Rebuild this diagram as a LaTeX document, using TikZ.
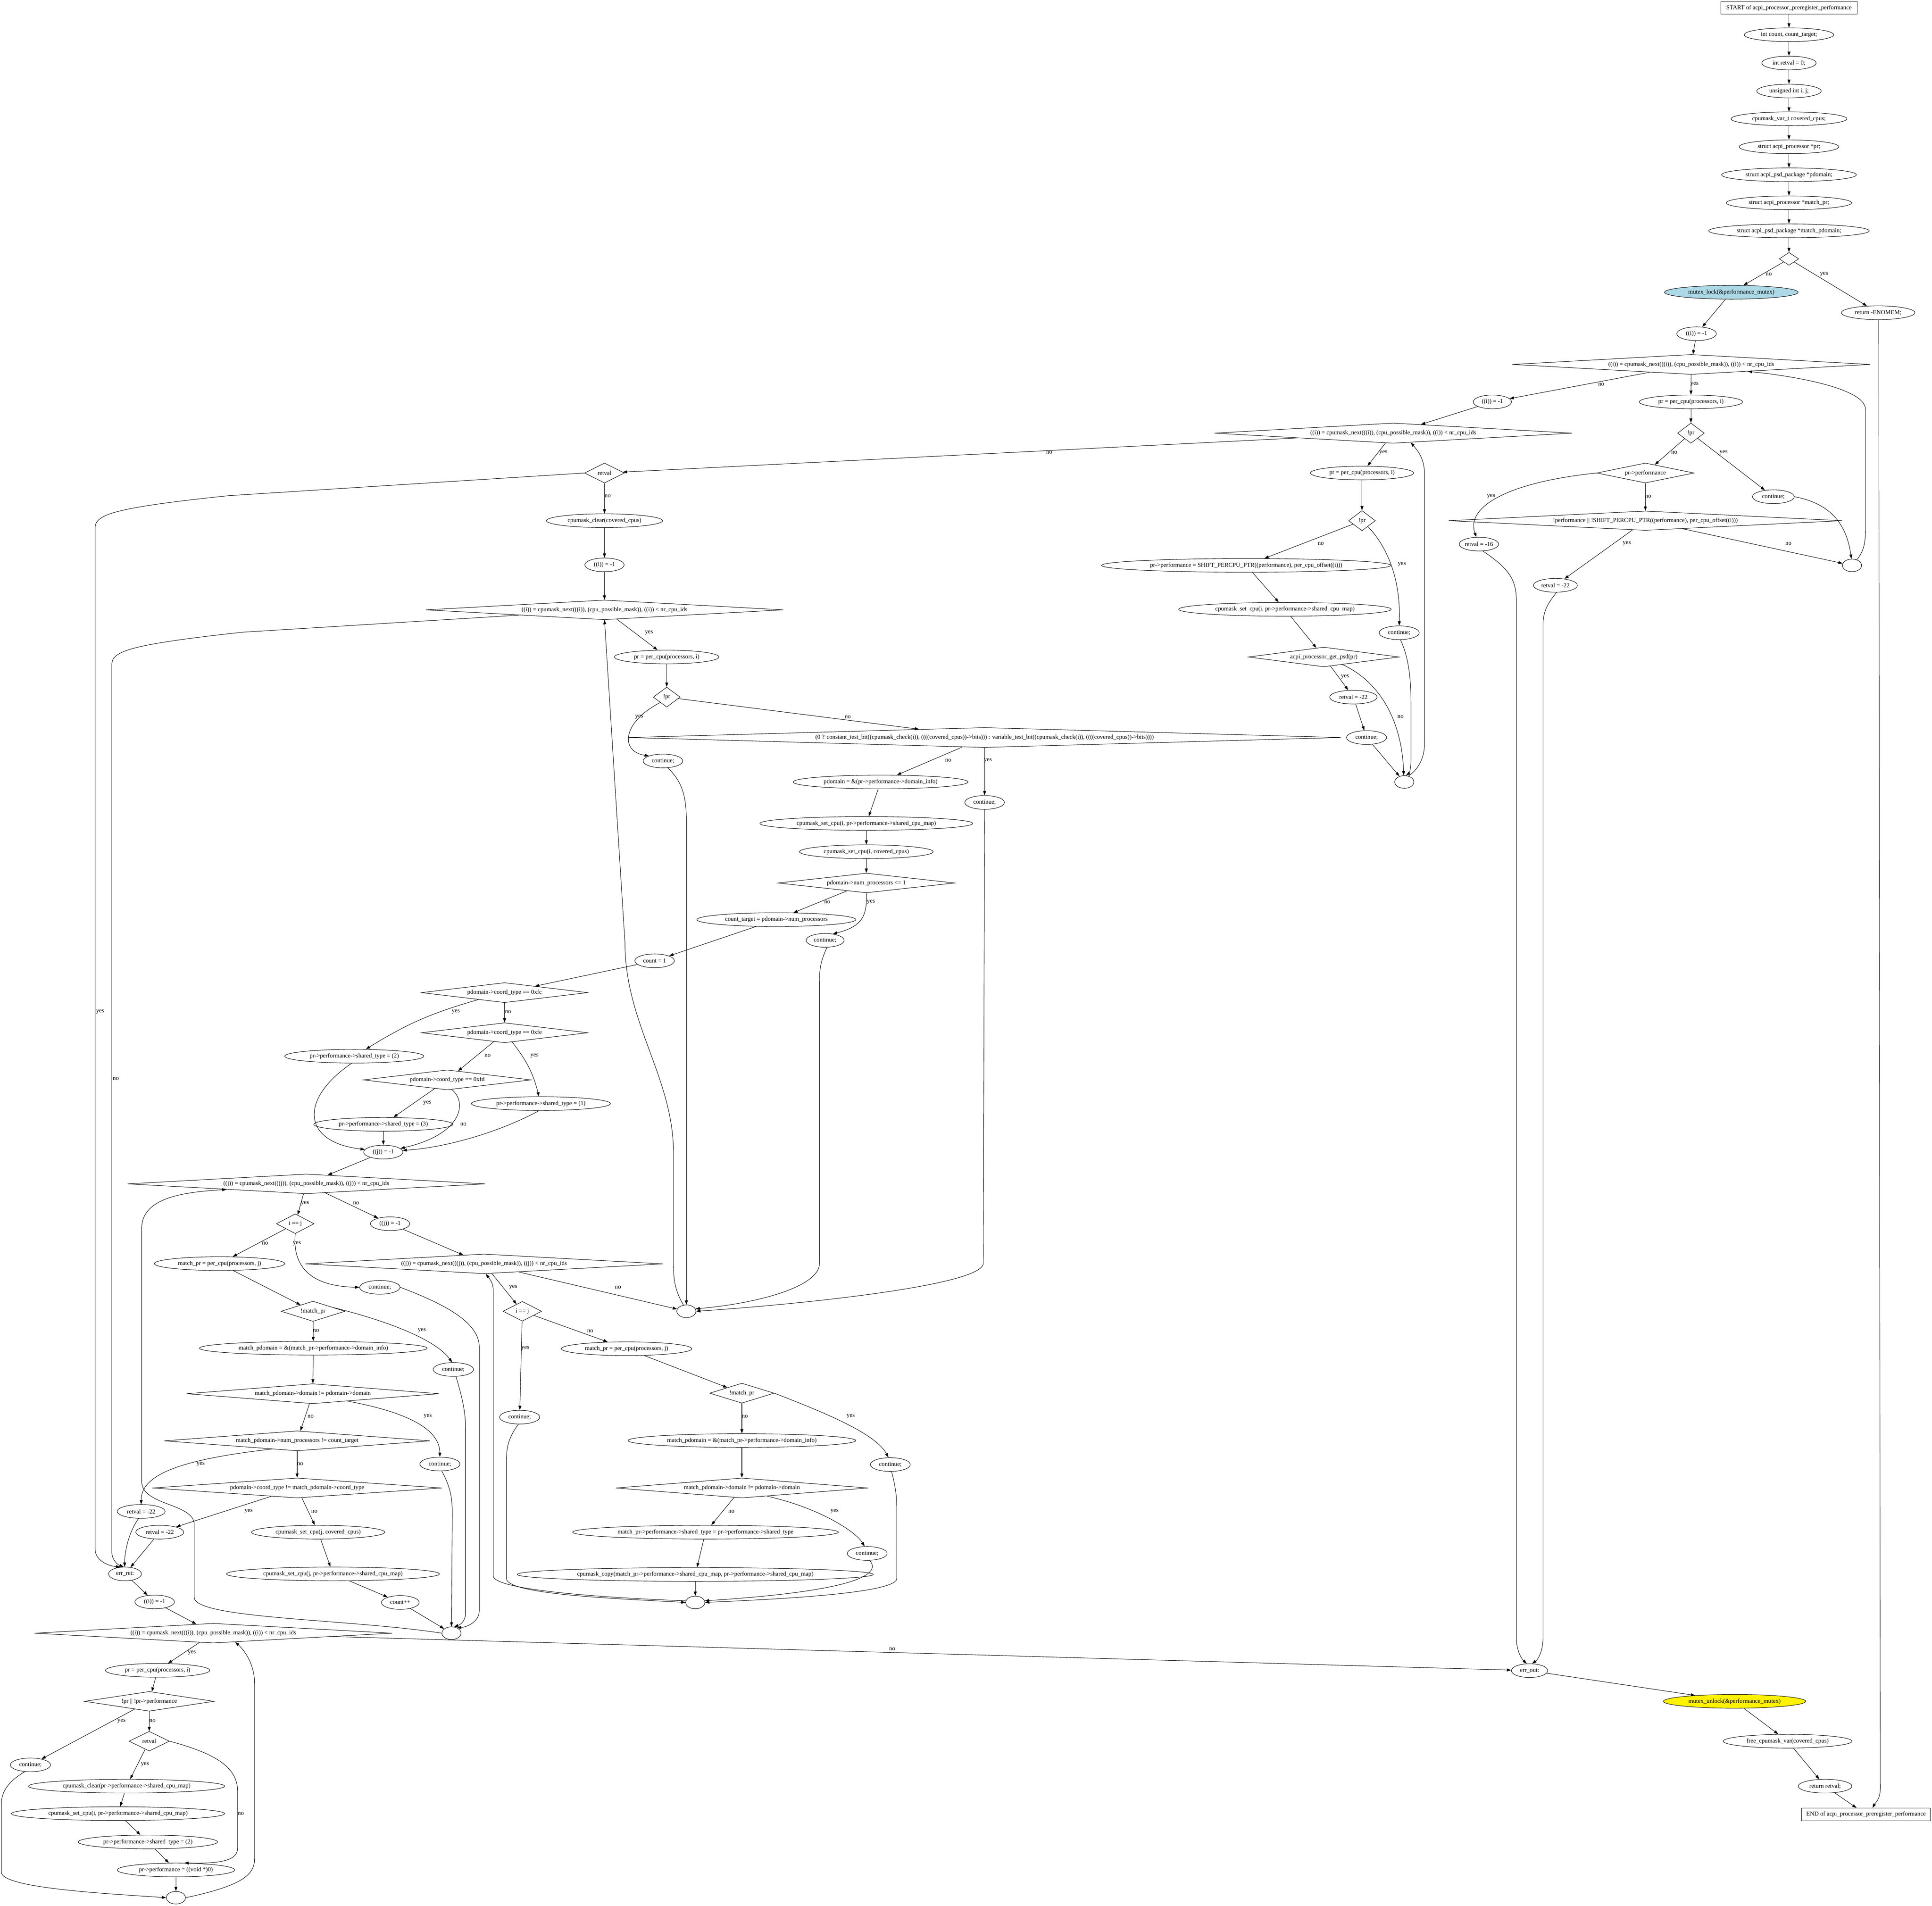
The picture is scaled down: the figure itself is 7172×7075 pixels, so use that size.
\documentclass[tikz,border=0pt]{standalone}
\usepackage{fontspec}
\setmainfont{Liberation Serif}
\usetikzlibrary{shapes.geometric,arrows.meta}
\newcommand\z[1]{\makebox[0pt]{#1}}
\definecolor{lblue}{RGB}{173,216,230}
\begin{document}
\begin{tikzpicture}[x=0.01cm,y=-0.01cm,
  every node/.style={font=\fontsize{6.4}{7.5}\selectfont},
  line width=0.45pt,
  el/.style={ellipse,draw,inner sep=0pt,minimum height=0.51cm,minimum width=#1},
  mg/.style={ellipse,draw,inner sep=0pt,minimum height=0.47cm,minimum width=0.71cm},
  dia/.style 2 args={diamond,draw,inner sep=0pt,minimum width=#1,minimum height=#2},
  box/.style={rectangle,draw,inner sep=0pt,minimum width=#1,minimum height=0.47cm},
  lab/.style={inner sep=0pt},
  ar/.style={draw,-{Triangle[length=0.16cm,width=0.11cm]}}]
\useasboundingbox (0,0) rectangle (7172,7075);
% top chain
\node[box=5.06cm] (start) at (6641,29) {\z{START of acpi\_processor\_preregister\_performance}};
\node[el=3.32cm] (n1) at (6641,129) {\z{int count, count\_target;}};
\node[el=2.02cm] (n2) at (6641,234) {\z{int retval = 0;}};
\node[el=2.39cm] (n3) at (6641,338) {\z{unsigned int i, j;}};
\node[el=4.30cm] (n4) at (6641,441) {\z{cpumask\_var\_t covered\_cpus;}};
\node[el=3.70cm] (n5) at (6641,545) {\z{struct acpi\_processor *pr;}};
\node[el=5.00cm] (n6) at (6641,649) {\z{struct acpi\_psd\_package *pdomain;}};
\node[el=4.65cm] (n7) at (6641,753) {\z{struct acpi\_processor *match\_pr;}};
\node[el=5.96cm] (n8) at (6641,857) {\z{struct acpi\_psd\_package *match\_pdomain;}};
\node[dia={0.72cm}{0.48cm}] (d0) at (6641,961) {};
\node[el=4.96cm,fill=lblue] (mlock) at (6427,1085) {\z{mutex\_lock(\&performance\_mutex)}};
\node[el=2.73cm] (enomem) at (6972,1161) {\z{return -ENOMEM;}};
\node[el=1.47cm] (i1) at (6298,1239) {\z{((i)) = -1}};
\node[dia={13.28cm}{0.74cm}] (L1) at (6278,1353) {\z{((i)) = cpumask\_next(((i)), (cpu\_possible\_mask)), ((i)) < nr\_cpu\_ids}};
\node[el=1.42cm] (i2) at (5540,1492) {\z{((i)) = -1}};
\node[el=3.83cm] (pr1) at (6277,1492) {\z{pr = per\_cpu(processors, i)}};
\node[dia={0.99cm}{0.75cm}] (npr1) at (6277,1608) {\z{!pr}};
\node[dia={13.27cm}{0.75cm}] (L2) at (5172,1608) {\z{((i)) = cpumask\_next(((i)), (cpu\_possible\_mask)), ((i)) < nr\_cpu\_ids}};
\node[dia={3.61cm}{0.74cm}] (prp) at (6108,1756) {\z{pr->performance}};
\node[el=1.55cm] (c1) at (6583,1844) {\z{continue;}};
\node[dia={14.60cm}{0.72cm}] (perf) at (6108,1933) {\z{!performance || !SHIFT\_PERCPU\_PTR((performance), per\_cpu\_offset((i)))}};
\node[el=1.46cm] (r16) at (5490,2020) {\z{retval = -16}};
\node[el=1.63cm] (r22a) at (5774,2173) {\z{retval = -22}};
\node[mg] (m1) at (6875,2099) {};
% loop 2 body
\node[el=3.83cm] (pr2) at (5056,1756) {\z{pr = per\_cpu(processors, i)}};
\node[dia={0.99cm}{0.75cm}] (npr2) at (5056,1933) {\z{!pr}};
\node[el=10.73cm] (shift) at (4626,2099) {\z{pr->performance = SHIFT\_PERCPU\_PTR((performance), per\_cpu\_offset((i)))}};
\node[el=7.89cm] (scpu2) at (4770,2262) {\z{cpumask\_set\_cpu(i, pr->performance->shared\_cpu\_map)}};
\node[dia={5.59cm}{0.73cm}] (psd) at (4914,2439) {\z{acpi\_processor\_get\_psd(pr)}};
\node[el=1.49cm] (c2a) at (5194,2349) {\z{continue;}};
\node[el=1.76cm] (r22b) at (5024,2588) {\z{retval = -22}};
\node[el=1.49cm] (c2b) at (5073,2738) {\z{continue;}};
\node[mg] (m2) at (5213,2903) {};
% loop 3
\node[dia={1.48cm}{0.74cm}] (retv) at (2244,1756) {\z{retval}};
\node[el=4.31cm] (clr) at (2244,1933) {\z{cpumask\_clear(covered\_cpus)}};
\node[el=1.46cm] (i3) at (2244,2097) {\z{((i)) = -1}};
\node[dia={13.26cm}{0.73cm}] (L3) at (2244,2264) {\z{((i)) = cpumask\_next(((i)), (cpu\_possible\_mask)), ((i)) < nr\_cpu\_ids}};
\node[el=3.88cm] (pr3) at (2475,2439) {\z{pr = per\_cpu(processors, i)}};
\node[dia={1.00cm}{0.74cm}] (npr3) at (2475,2588) {\z{!pr}};
\node[el=1.47cm] (c3a) at (2461,2825) {\z{continue;}};
\node[dia={26.43cm}{0.74cm}] (tb) at (3655,2738) {\z{(0 ? constant\_test\_bit((cpumask\_check(i)), ((((covered\_cpus))->bits))) : variable\_test\_bit((cpumask\_check(i)), ((((covered\_cpus))->bits))))}};
\node[el=6.49cm] (pdom) at (3269,2903) {\z{pdomain = \&(pr->performance->domain\_info)}};
\node[el=1.47cm] (c3b) at (3655,2979) {\z{continue;}};
\node[el=7.90cm] (scpu3) at (3216,3057) {\z{cpumask\_set\_cpu(i, pr->performance->shared\_cpu\_map)}};
\node[el=4.96cm] (scov) at (3216,3162) {\z{cpumask\_set\_cpu(i, covered\_cpus)}};
\node[dia={6.55cm}{0.73cm}] (np1) at (3216,3278) {\z{pdomain->num\_processors <= 1}};
\node[el=5.90cm] (ct) at (2882,3414) {\z{count\_target = pdomain->num\_processors}};
\node[el=1.41cm] (c3c) at (3063,3491) {\z{continue;}};
\node[el=1.47cm] (cnt1) at (2430,3567) {\z{count = 1}};
\node[dia={6.17cm}{0.74cm}] (fc) at (1873,3685) {\z{pdomain->coord\_type == 0xfc}};
\node[dia={6.17cm}{0.74cm}] (fe) at (1873,3834) {\z{pdomain->coord\_type == 0xfe}};
\node[el=5.16cm] (st2) at (1315,3921) {\z{pr->performance->shared\_type = (2)}};
\node[dia={6.23cm}{0.74cm}] (fd) at (1660,4009) {\z{pdomain->coord\_type == 0xfd}};
\node[el=5.16cm] (st1) at (2008,4097) {\z{pr->performance->shared\_type = (1)}};
\node[el=5.16cm] (st3) at (1423,4174) {\z{pr->performance->shared\_type = (3)}};
\node[el=1.46cm] (j1) at (1423,4277) {\z{((j)) = -1}};
\node[dia={13.26cm}{0.73cm}] (L4) at (1137,4395) {\z{((j)) = cpumask\_next(((j)), (cpu\_possible\_mask)), ((j)) < nr\_cpu\_ids}};
\node[dia={1.40cm}{0.73cm}] (ij4) at (1096,4543) {\z{i == j}};
\node[el=1.46cm] (j2) at (1448,4543) {\z{((j)) = -1}};
\node[el=4.84cm] (mp4) at (815,4691) {\z{match\_pr = per\_cpu(processors, j)}};
\node[dia={13.27cm}{0.73cm}] (L5) at (1797,4692) {\z{((j)) = cpumask\_next(((j)), (cpu\_possible\_mask)), ((j)) < nr\_cpu\_ids}};
\node[el=1.50cm] (c4a) at (1410,4779) {\z{continue;}};
\node[dia={2.37cm}{0.75cm}] (nmp4) at (1162,4868) {\z{!match\_pr}};
\node[dia={1.43cm}{0.73cm}] (ij5) at (1939,4868) {\z{i == j}};
\node[mg] (m3) at (2548,4868) {};
\node[el=8.45cm] (mpd4) at (1163,5005) {\z{match\_pdomain = \&(match\_pr->performance->domain\_info)}};
\node[el=1.50cm] (c4b) at (1683,5084) {\z{continue;}};
\node[dia={9.36cm}{0.74cm}] (dom4) at (1161,5174) {\z{match\_pdomain->domain != pdomain->domain}};
\node[dia={9.86cm}{0.74cm}] (nump) at (1103,5349) {\z{match\_pdomain->num\_processors != count\_target}};
\node[el=1.49cm] (c4c) at (1633,5435) {\z{continue;}};
\node[dia={10.75cm}{0.74cm}] (crd) at (1103,5524) {\z{pdomain->coord\_type != match\_pdomain->coord\_type}};
\node[el=1.78cm] (r22c) at (524,5611) {\z{retval = -22}};
\node[el=1.78cm] (r22d) at (593,5688) {\z{retval = -22}};
\node[el=4.94cm] (scj) at (1181,5688) {\z{cpumask\_set\_cpu(j, covered\_cpus)}};
\node[el=1.22cm] (errret) at (464,5843) {\z{err\_ret:}};
\node[el=7.90cm] (scj2) at (1236,5843) {\z{cpumask\_set\_cpu(j, pr->performance->shared\_cpu\_map)}};
\node[el=1.40cm] (cntpp) at (1486,5949) {\z{count++}};
\node[el=1.47cm] (i4) at (574,5947) {\z{((i)) = -1}};
\node[mg] (m4) at (1676,6063) {};
% loop 5 body
\node[el=4.84cm] (mp5) at (2326,5007) {\z{match\_pr = per\_cpu(processors, j)}};
\node[el=1.49cm] (c5a) at (1929,5261) {\z{continue;}};
\node[dia={2.39cm}{0.74cm}] (nmp5) at (2754,5172) {\z{!match\_pr}};
\node[el=8.45cm] (mpd5) at (2754,5348) {\z{match\_pdomain = \&(match\_pr->performance->domain\_info)}};
\node[el=1.48cm] (c5b) at (3305,5437) {\z{continue;}};
\node[dia={9.37cm}{0.74cm}] (dom5) at (2754,5524) {\z{match\_pdomain->domain != pdomain->domain}};
\node[el=9.86cm] (sta) at (2619,5688) {\z{match\_pr->performance->shared\_type = pr->performance->shared\_type}};
\node[el=1.48cm] (c5c) at (3219,5767) {\z{continue;}};
\node[el=13.21cm] (cpy) at (2581,5845) {\z{cpumask\_copy(match\_pr->performance->shared\_cpu\_map, pr->performance->shared\_cpu\_map)}};
\node[mg] (m5) at (2581,5949) {};
% loop 6
\node[dia={13.28cm}{0.73cm}] (L6) at (792,6063) {\z{((i)) = cpumask\_next(((i)), (cpu\_possible\_mask)), ((i)) < nr\_cpu\_ids}};
\node[el=3.87cm] (pr6) at (585,6201) {\z{pr = per\_cpu(processors, i)}};
\node[dia={4.80cm}{0.73cm}] (prp6) at (554,6316) {\z{!pr || !pr->performance}};
\node[el=1.49cm] (c6) at (113,6552) {\z{continue;}};
\node[dia={1.50cm}{0.73cm}] (rv6) at (554,6464) {\z{retval}};
\node[el=7.28cm] (clr6) at (470,6631) {\z{cpumask\_clear(pr->performance->shared\_cpu\_map)}};
\node[el=7.91cm] (scpu6) at (438,6733) {\z{cpumask\_set\_cpu(i, pr->performance->shared\_cpu\_map)}};
\node[el=5.17cm] (st6) at (549,6838) {\z{pr->performance->shared\_type = (2)}};
\node[el=4.36cm] (void) at (653,6942) {\z{pr->performance = ((void *)0)}};
\node[mg] (m6) at (653,7045) {};
% end
\node[el=1.35cm] (errout) at (5678,6202) {\z{err\_out:}};
\node[el=5.28cm,fill=yellow] (munlock) at (6439,6316) {\z{mutex\_unlock(\&performance\_mutex)}};
\node[el=4.78cm] (free) at (6636,6464) {\z{free\_cpumask\_var(covered\_cpus)}};
\node[el=1.99cm] (ret) at (6775,6631) {\z{return retval;}};
\node[box=4.77cm] (end) at (6927,6736) {\z{END of acpi\_processor\_preregister\_performance}};

% straight edges
\foreach \a/\b in {start/n1,n1/n2,n2/n3,n3/n4,n4/n5,n5/n6,n6/n7,n7/n8,n8/d0,d0/mlock,d0/enomem,
  mlock/i1,i1/L1,L1/i2,L1/pr1,i2/L2,pr1/npr1,npr1/prp,npr1/c1,prp/perf,perf/r22a,perf/m1,
  L2/retv,L2/pr2,pr2/npr2,npr2/shift,shift/scpu2,scpu2/psd,psd/r22b,r22b/c2b,c2b/m2,
  retv/clr,clr/i3,i3/L3,L3/pr3,pr3/npr3,npr3/tb,tb/pdom,tb/c3b,pdom/scpu3,scpu3/scov,scov/np1,
  np1/ct,ct/cnt1,cnt1/fc,fc/fe,fe/fd,fd/st3,st3/j1,j1/L4,L4/ij4,L4/j2,ij4/mp4,j2/L5,mp4/nmp4,
  L5/ij5,L5/m3,ij5/mp5,ij5/c5a,nmp4/mpd4,mpd4/dom4,dom4/nump,nump/crd,crd/r22d,crd/scj,
  scj/scj2,scj2/cntpp,cntpp/m4,r22d/errret,errret/i4,i4/L6,mp5/nmp5,nmp5/mpd5,mpd5/dom5,
  dom5/sta,sta/cpy,cpy/m5,L6/pr6,pr6/prp6,prp6/c6,prp6/rv6,rv6/clr6,clr6/scpu6,scpu6/st6,
  st6/void,void/m6,L6/errout,errout/munlock,munlock/free,free/ret,ret/end}
  \draw[ar] (\a) -- (\b);

% curved edges, loop 1
\draw[ar] (prp.west) .. controls (5600,1790) and (5440,1880) .. (r16.110);
\draw[ar] (c1.east) .. controls (6800,1870) and (6855,1950) .. (m1.95);
\draw[ar] (m1.50) .. controls (6925,2040) and (6925,2000) .. (6925,1950) -- (6925,1520) .. controls (6925,1440) and (6650,1395) .. (L1.-7);
\draw[ar] (r16.-60) .. controls (5600,2110) and (5629,2150) .. (5629,2230) -- (5629,6080) .. controls (5629,6130) and (5650,6160) .. (errout.112);
\draw[ar] (r22a.-80) .. controls (5745,2240) and (5728,2270) .. (5728,2320) -- (5728,6080) .. controls (5728,6130) and (5710,6160) .. (errout.70);
\draw[ar] (enomem.-85) -- (6980,6640) .. controls (6980,6680) and (6960,6695) .. (end.45);
% loop 2
\draw[ar] (npr2.-45) .. controls (5150,2030) and (5200,2150) .. (c2a.north);
\draw[ar] (psd.-22) .. controls (5140,2540) and (5205,2700) .. (m2.95);
\draw[ar] (c2a.-80) .. controls (5235,2450) and (5238,2550) .. (5238,2620) -- (5238,2820) .. controls (5238,2850) and (5232,2870) .. (m2.75);
\draw[ar] (m2.55) .. controls (5260,2860) and (5288,2820) .. (5288,2760) -- (5288,1760) .. controls (5288,1700) and (5260,1670) .. (L2.-28);
% retval / loop 3 exits
\draw[ar] (retv.west) -- (850,1840) .. controls (420,1885) and (353,1910) .. (353,1960) -- (353,5750) .. controls (353,5790) and (395,5812) .. (errret.125);
\draw[ar] (L3) -- (900,2347) .. controls (460,2395) and (415,2420) .. (415,2470) -- (415,5760) .. controls (415,5790) and (435,5808) .. (errret.100);
% loop 3 body
\draw[ar] (npr3.-140) .. controls (2310,2680) and (2300,2790) .. (c3a.160);
\draw[ar] (c3a.-55) .. controls (2530,2900) and (2548,2950) .. (2548,3050) -- (m3.north);
\draw[ar] (np1.south) .. controls (3220,3400) and (3200,3440) .. (c3c.40);
\draw[ar] (c3b.south) -- (3650,4690) .. controls (3650,4770) and (3000,4840) .. (m3.east);
\draw[ar] (c3c.-75) .. controls (3045,3570) and (3042,3600) .. (3042,3650) -- (3042,4690) .. controls (3042,4780) and (2800,4840) .. (m3.15);
\draw[ar] (m3.115) .. controls (2505,4790) and (2500,4750) .. (2500,4690) -- (2500,4280) .. controls (2500,4000) and (2320,3800) .. (2320,3500) -- (L3.south);
\draw[ar] (fc) to[bend right=8] (st2);
\draw[ar] (fe) to[bend left=12] (st1);
\draw[ar] (fd.-65) .. controls (1735,4090) and (1720,4210) .. (j1.12);
\draw[ar] (st2.-110) .. controls (1110,4080) and (1120,4240) .. (j1.172);
\draw[ar] (st1.-105) .. controls (1860,4200) and (1660,4260) .. (j1.5);
% loop 4
\draw[ar] (ij4.south) .. controls (1085,4700) and (1150,4775) .. (c4a.west);
\draw[ar] (nmp4.10) .. controls (1500,4920) and (1630,4990) .. (c4b.100);
\draw[ar] (dom4.-12) .. controls (1550,5250) and (1632,5320) .. (c4c.north);
\draw[ar] (nump.-162) .. controls (650,5420) and (524,5480) .. (r22c.north);
\draw[ar] (r22c.-110) .. controls (470,5700) and (462,5780) .. (errret.92);
\draw[ar] (c4a.east) .. controls (1620,4830) and (1779,4900) .. (1779,5000) -- (1779,5980) .. controls (1779,6020) and (1735,6040) .. (m4.45);
\draw[ar] (c4b.-70) .. controls (1720,5200) and (1728,5250) .. (1728,5300) -- (1728,5990) .. controls (1728,6015) and (1712,6030) .. (m4.68);
\draw[ar] (c4c.-75) .. controls (1672,5520) and (1679,5560) .. (1679,5620) -- (m4.north);
\draw[ar] (m4.west) .. controls (1300,6010) and (721,6010) .. (721,5930) -- (721,5660) .. controls (721,5580) and (526,5590) .. (526,5500) -- (526,4560) .. controls (526,4440) and (700,4425) .. (L4.184);
% loop 5
\draw[ar] (nmp5.east) .. controls (3050,5240) and (3250,5320) .. (c5b.105);
\draw[ar] (dom5.-18) .. controls (3050,5600) and (3180,5690) .. (c5c.110);
\draw[ar] (c5a.-100) .. controls (1885,5340) and (1880,5380) .. (1880,5420) -- (1880,5860) .. controls (1880,5920) and (2300,5935) .. (m5.west);
\draw[ar] (c5b.-80) .. controls (3325,5520) and (3329,5560) .. (3329,5600) -- (3329,5860) .. controls (3329,5920) and (2800,5940) .. (m5.east);
\draw[ar] (c5c.-70) .. controls (3270,5840) and (3200,5905) .. (m5.10);
\draw[ar] (m5.170) .. controls (2200,5930) and (1831,5900) .. (1831,5850) -- (1831,4790) .. controls (1831,4760) and (1815,4745) .. (L5.-80);
% loop 6
\draw[ar] (rv6.east) .. controls (800,6510) and (882,6560) .. (882,6650) -- (882,6860) .. controls (882,6900) and (840,6920) .. (void.40);
\draw[ar] (c6.-130) .. controls (20,6620) and (5,6660) .. (5,6700) -- (5,6950) .. controls (5,7010) and (400,7030) .. (m6.west);
\draw[ar] (m6.east) .. controls (900,7000) and (945,6960) .. (945,6900) -- (945,6250) .. controls (945,6170) and (900,6120) .. (L6.-22);

% labels
\node[lab] (t01) at (6566,1018) {no};
\node[lab] (t02) at (6771,1018) {yes};
\node[lab] (t03) at (5944,1427) {no};
\node[lab] (t04) at (6290,1427) {yes};
\node[lab] (t05) at (3895,1680) {no};
\node[lab] (t06) at (5135,1680) {yes};
\node[lab] (t07) at (6215,1680) {no};
\node[lab] (t08) at (6398,1680) {yes};
\node[lab] (t09) at (5535,1843) {yes};
\node[lab] (t10) at (6118,1843) {no};
\node[lab] (t11) at (6039,2018) {yes};
\node[lab] (t12) at (6639,2018) {no};
\node[lab] (t13) at (4903,2018) {no};
\node[lab] (t14) at (5204,2095) {yes};
\node[lab] (t15) at (4993,2512) {yes};
\node[lab] (t16) at (5199,2661) {no};
\node[lab] (t17) at (2256,1842) {no};
\node[lab] (t18) at (372,3756) {yes};
\node[lab] (t19) at (2409,2349) {yes};
\node[lab] (t20) at (430,4005) {no};
\node[lab] (t21) at (2373,2662) {yes};
\node[lab] (t22) at (3147,2662) {no};
\node[lab] (t23) at (3520,2823) {no};
\node[lab] (t24) at (3667,2823) {yes};
\node[lab] (t25) at (3071,3349) {no};
\node[lab] (t26) at (3233,3349) {yes};
\node[lab] (t27) at (1692,3756) {yes};
\node[lab] (t28) at (1886,3756) {no};
\node[lab] (t29) at (1810,3919) {no};
\node[lab] (t30) at (1984,3919) {yes};
\node[lab] (t31) at (1586,4095) {yes};
\node[lab] (t32) at (1720,4174) {no};
\node[lab] (t33) at (1132,4467) {yes};
\node[lab] (t34) at (1322,4467) {no};
\node[lab] (t35) at (984,4616) {no};
\node[lab] (t36) at (1102,4616) {yes};
\node[lab] (t37) at (1905,4779) {yes};
\node[lab] (t38) at (2294,4779) {no};
\node[lab] (t39) at (1173,4940) {no};
\node[lab] (t40) at (1566,4940) {yes};
\node[lab] (t41) at (2191,4941) {no};
\node[lab] (t42) at (1950,5005) {yes};
\node[lab] (t43) at (1153,5258) {no};
\node[lab] (t44) at (1588,5258) {yes};
\node[lab] (t45) at (745,5435) {yes};
\node[lab] (t46) at (1114,5435) {no};
\node[lab] (t47) at (923,5611) {yes};
\node[lab] (t48) at (1167,5611) {no};
\node[lab] (t49) at (2765,5258) {no};
\node[lab] (t50) at (3158,5258) {yes};
\node[lab] (t51) at (2715,5611) {no};
\node[lab] (t52) at (3098,5611) {yes};
\node[lab] (t53) at (712,6136) {yes};
\node[lab] (t54) at (3312,6122) {no};
\node[lab] (t55) at (451,6389) {yes};
\node[lab] (t56) at (566,6389) {no};
\node[lab] (t57) at (538,6550) {yes};
\node[lab] (t58) at (894,6733) {no};
\end{tikzpicture}
\end{document}
